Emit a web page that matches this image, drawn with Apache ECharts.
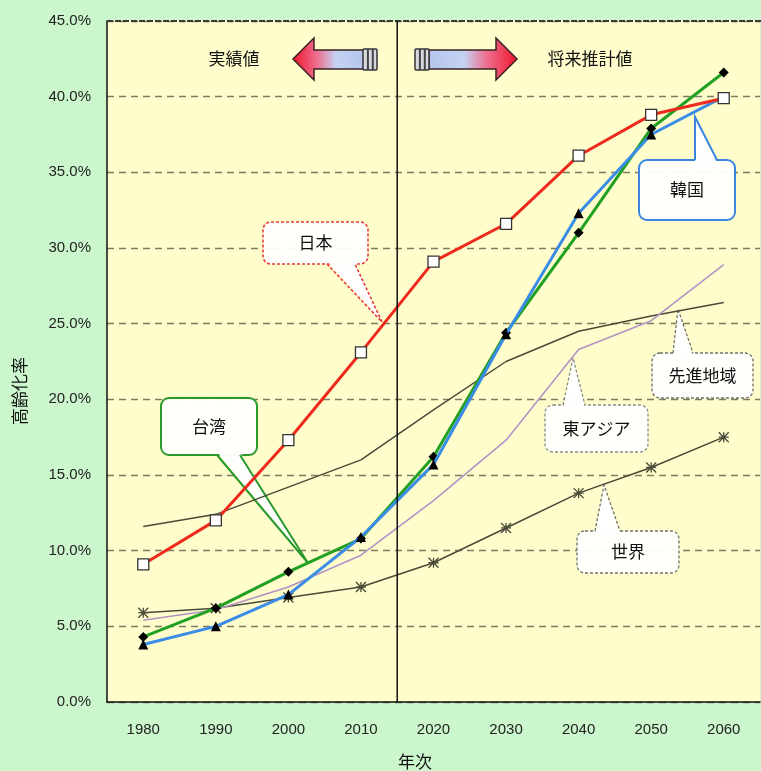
<!DOCTYPE html>
<html>
<head>
<meta charset="utf-8">
<script src="https://cdn.jsdelivr.net/npm/echarts@6/dist/echarts.min.js"></script>
<style>
  html, body { margin: 0; padding: 0; background: #CCF7CC; }
  #chart { width: 761px; height: 771px; }
</style>
</head>
<body>
<div id="chart"></div>
<script>
// Ageing rate (share of population aged 65+), actual and projected
const years = ['1980', '1990', '2000', '2010', '2020', '2030', '2040', '2050', '2060'];
const yTicks = [0, 5, 10, 15, 20, 25, 30, 35, 40, 45];

const japan     = [9.1, 12.0, 17.3, 23.1, 29.1, 31.6, 36.1, 38.8, 39.9];
const taiwan    = [4.3, 6.2, 8.6, 10.8, 16.2, 24.4, 31.0, 37.9, 41.6];
const korea     = [3.8, 5.0, 7.1, 10.9, 15.7, 24.3, 32.3, 37.5, 40.0];
const eastAsia  = [5.4, 6.1, 7.6, 9.7, 13.3, 17.3, 23.3, 25.2, 28.9];
const developed = [11.6, 12.4, 14.2, 16.0, 19.3, 22.5, 24.5, 25.5, 26.4];
const world     = [5.9, 6.2, 6.9, 7.6, 9.2, 11.5, 13.8, 15.5, 17.5];

const FONT = '"Liberation Sans", "Noto Sans CJK JP", sans-serif';
const JFONT = '"Noto Sans CJK JP", sans-serif';
const ASTERISK = 'path://M0,0L10,10M10,0L0,10M5,0L5,10M0,5L10,5';

const chart = echarts.init(document.getElementById('chart'), null, { renderer: 'canvas' });

const option = {
  backgroundColor: '#CCF7CC',
  animation: false,
  grid: {
    left: 107, right: 1, top: 21, bottom: 69,
    show: true, backgroundColor: '#FFFDCC', borderWidth: 0
  },
  xAxis: {
    type: 'category',
    data: years,
    boundaryGap: true,
    axisLine: { lineStyle: { color: '#111', width: 1.5 } },
    axisTick: { inside: true, length: 5, lineStyle: { color: '#111', width: 1.2 } },
    axisLabel: { color: '#222', fontSize: 15, fontFamily: FONT, margin: 20 },
    splitLine: { show: false }
  },
  yAxis: {
    type: 'value',
    min: yTicks[0], max: yTicks[yTicks.length - 1], interval: 5,
    axisLine: { show: true, lineStyle: { color: '#111', width: 1.5 } },
    axisTick: { show: false },
    axisLabel: {
      color: '#222', fontSize: 15, fontFamily: FONT, margin: 16,
      formatter: v => v.toFixed(1) + '%'
    },
    splitLine: { show: true, lineStyle: { color: '#7C7C62', type: [7, 5], width: 1.3 } }
  },
  series: [
    {
      name: '先進地域', type: 'line', data: developed, showSymbol: false, symbol: 'none',
      lineStyle: { color: '#4A4A38', width: 1.5 }, z: 2
    },
    {
      name: '世界', type: 'line', data: world, symbol: ASTERISK, symbolSize: 10,
      itemStyle: { color: 'rgba(0,0,0,0)', borderColor: '#4A4A38', borderWidth: 1.3 },
      lineStyle: { color: '#4A4A38', width: 1.5 }, z: 2
    },
    {
      name: '東アジア', type: 'line', data: eastAsia, showSymbol: false, symbol: 'none',
      lineStyle: { color: '#B293C4', width: 1.6 }, z: 2
    },
    {
      name: '台湾', type: 'line', data: taiwan, symbol: 'diamond', symbolSize: 10,
      itemStyle: { color: '#000' },
      lineStyle: { color: '#22A022', width: 3 }, z: 3
    },
    {
      name: '韓国', type: 'line', data: korea, symbol: 'triangle', symbolSize: 10,
      itemStyle: { color: '#000' },
      lineStyle: { color: '#3A8CE6', width: 3 }, z: 4
    },
    {
      name: '日本', type: 'line', data: japan, symbol: 'rect', symbolSize: 11,
      itemStyle: { color: '#FFFFFF', borderColor: '#333', borderWidth: 1.3 },
      lineStyle: { color: '#EE2A1C', width: 3 }, z: 5
    }
  ]
};

chart.setOption(option);

// Callout box with a pointer toward a line
function callout(id, box, base, tip, text, stroke, dash, lw) {
  const inward = base[0][1] <= box.y + 1 ? 3 : -3;
  return {
    type: 'group', id: id, z: 100,
    children: [
      {
        type: 'rect', shape: { x: box.x, y: box.y, width: box.w, height: box.h, r: 8 },
        style: { fill: 'rgba(255,255,255,0.93)', stroke: stroke, lineWidth: lw, lineDash: dash }
      },
      {
        type: 'polygon',
        shape: { points: [[base[0][0], base[0][1] + inward], tip, [base[1][0], base[1][1] + inward]] },
        style: { fill: 'rgba(255,255,255,0.97)' }
      },
      {
        type: 'polyline', shape: { points: [base[0], tip, base[1]] },
        style: { stroke: stroke, lineWidth: lw, lineDash: dash, fill: null }
      },
      {
        type: 'text',
        x: box.x + box.w / 2, y: box.y + box.h / 2,
        style: {
          text: text, fill: '#111', font: '17px ' + JFONT,
          align: 'center', verticalAlign: 'middle'
        }
      }
    ]
  };
}

// Striped tail piece at the end of an arrow
function stripes(x, y, w, h) {
  return [
    { type: 'rect', shape: { x: x, y: y, width: w, height: h, r: 1 },
      style: { fill: '#D8D8E0', stroke: '#333', lineWidth: 1.5 }, z: 60 },
    { type: 'line', shape: { x1: x + w * 0.35, y1: y, x2: x + w * 0.35, y2: y + h },
      style: { stroke: '#444', lineWidth: 2 }, z: 61 },
    { type: 'line', shape: { x1: x + w * 0.7, y1: y, x2: x + w * 0.7, y2: y + h },
      style: { stroke: '#444', lineWidth: 2 }, z: 61 }
  ];
}

const xa = chart.convertToPixel({ xAxisIndex: 0 }, '2010');
const xb = chart.convertToPixel({ xAxisIndex: 0 }, '2020');
const divX = (xa + xb) / 2;
const yTop = chart.convertToPixel({ yAxisIndex: 0 }, 45);
const yBot = chart.convertToPixel({ yAxisIndex: 0 }, 0);
const xRight = chart.convertToPixel({ xAxisIndex: 0 }, '2060') + 40;

const leftGrad = new echarts.graphic.LinearGradient(0, 0, 1, 0, [
  { offset: 0, color: '#F0142C' },
  { offset: 0.35, color: '#EE7090' },
  { offset: 0.6, color: '#C4D2F2' },
  { offset: 1, color: '#B4C4EC' }
]);
const rightGrad = new echarts.graphic.LinearGradient(0, 0, 1, 0, [
  { offset: 0, color: '#B4C4EC' },
  { offset: 0.4, color: '#C4D2F2' },
  { offset: 0.65, color: '#EE7090' },
  { offset: 1, color: '#F0142C' }
]);

chart.setOption({
  graphic: [
    // darker dashed frame along the top edge of the plot
    { type: 'line', id: 'topEdge', z: 40,
      shape: { x1: 107, y1: yTop, x2: xRight, y2: yTop },
      style: { stroke: '#3A3A30', lineWidth: 1.8, lineDash: [6, 2] } },

    // boundary between actual and projected values
    { type: 'line', id: 'divider', z: 50,
      shape: { x1: divX, y1: yTop, x2: divX, y2: yBot },
      style: { stroke: '#111', lineWidth: 1.5 } },

    // left arrow: 実績値
    { type: 'polygon', id: 'arrowL', z: 59,
      shape: { points: [[293, 59], [314, 38], [314, 50], [364, 50], [364, 69], [314, 69], [314, 80]] },
      style: { fill: leftGrad, stroke: '#3A2222', lineWidth: 1.5 } },
    ...stripes(363, 49, 14, 21),
    { type: 'text', id: 'lblActual', x: 234, y: 59, z: 60,
      style: { text: '実績値', fill: '#111', font: '17px ' + JFONT, align: 'center', verticalAlign: 'middle' } },

    // right arrow: 将来推計値
    { type: 'polygon', id: 'arrowR', z: 59,
      shape: { points: [[517, 59], [496, 38], [496, 50], [429, 50], [429, 69], [496, 69], [496, 80]] },
      style: { fill: rightGrad, stroke: '#3A2222', lineWidth: 1.5 } },
    ...stripes(415, 49, 14, 21),
    { type: 'text', id: 'lblFuture', x: 590, y: 59, z: 60,
      style: { text: '将来推計値', fill: '#111', font: '17px ' + JFONT, align: 'center', verticalAlign: 'middle' } },

    // callouts naming each line
    callout('cJapan', { x: 263, y: 222, w: 105, h: 42 }, [[327, 264], [355, 264]], [382, 322],
      '日本', '#E83A3A', [3, 2], 1.6),
    callout('cTaiwan', { x: 161, y: 398, w: 96, h: 57 }, [[217, 455], [240, 455]], [308, 563],
      '台湾', '#2A9A2A', null, 2),
    callout('cKorea', { x: 639, y: 160, w: 96, h: 60 }, [[695, 160], [717, 160]], [695, 117],
      '韓国', '#3A86E0', null, 2),
    callout('cDeveloped', { x: 652, y: 353, w: 101, h: 45 }, [[673, 353], [693, 353]], [678, 309],
      '先進地域', '#707070', [3, 2], 1.3),
    callout('cEastAsia', { x: 545, y: 405, w: 103, h: 47 }, [[563, 405], [585, 405]], [573, 358],
      '東アジア', '#8A8A8A', [3, 2], 1.3),
    callout('cWorld', { x: 577, y: 531, w: 102, h: 42 }, [[595, 531], [620, 531]], [604, 485],
      '世界', '#707070', [3, 2], 1.3),

    // axis titles
    { type: 'text', id: 'yName', x: 20, y: 391, rotation: Math.PI / 2, z: 60,
      style: { text: '高齢化率', fill: '#111', font: '17px ' + JFONT, align: 'center', verticalAlign: 'middle' } },
    { type: 'text', id: 'xName', x: 415, y: 762, z: 60,
      style: { text: '年次', fill: '#111', font: '17px ' + JFONT, align: 'center', verticalAlign: 'middle' } }
  ]
});
</script>
</body>
</html>
